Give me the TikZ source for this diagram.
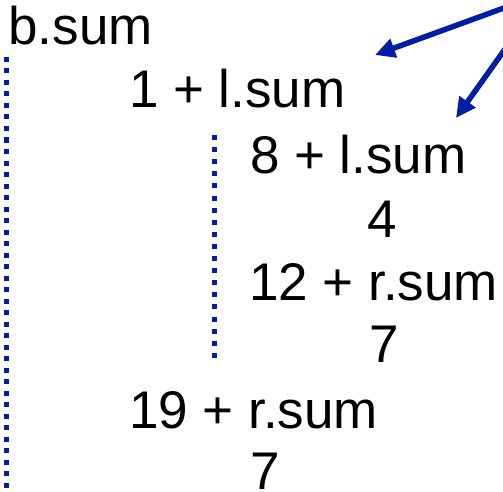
\documentclass[tikz,border=0pt]{standalone}
\usepackage{fontspec}
\setmainfont{Liberation Sans}
\usetikzlibrary{arrows.meta}
\definecolor{linkblue}{RGB}{0,30,165}
\begin{document}
\begin{tikzpicture}[x=1pt,y=-1pt,
  lbl/.style={anchor=base west,inner sep=0pt,outer sep=0pt,font=\fontsize{53}{62}\selectfont},
  dots/.style={draw=linkblue,line width=5pt,dash pattern=on 5pt off 6.5pt},
  dots2/.style={draw=linkblue,line width=5pt,dash pattern=on 5pt off 7.1pt},
  pointer/.style={draw=linkblue,line width=5.5pt,-{Triangle[length=20pt,width=19pt]}}]
\useasboundingbox (0,0) rectangle (503,492);
\node[lbl] (b) at (8.5,45) {b.sum};
\node[lbl] (a1) at (129,108) {1 + l.sum};
\node[lbl] (a2) at (250,173) {8 + l.sum};
\node[lbl] (v4) at (367,237) {4};
\node[lbl] (a3) at (249,300) {12 + r.sum};
\node[lbl] (v7a) at (369,362) {7};
\node[lbl] (a4) at (129,428) {19 + r.sum};
\node[lbl] (v7b) at (250,489) {7};
\coordinate (d1s) at (6.7,57);
\coordinate (d1e) at (6.7,495);
\coordinate (d2s) at (214,135);
\coordinate (d2e) at (214,358);
\draw[dots] (d1s) -- (d1e);
\draw[dots2] (d2s) -- (d2e);
\coordinate (src) at (545,-7);
\coordinate (t1) at (375,55);
\coordinate (t2) at (456,118);
\draw[pointer] (src) -- (t1);
\draw[pointer] (src) -- (t2);
\end{tikzpicture}
\end{document}
